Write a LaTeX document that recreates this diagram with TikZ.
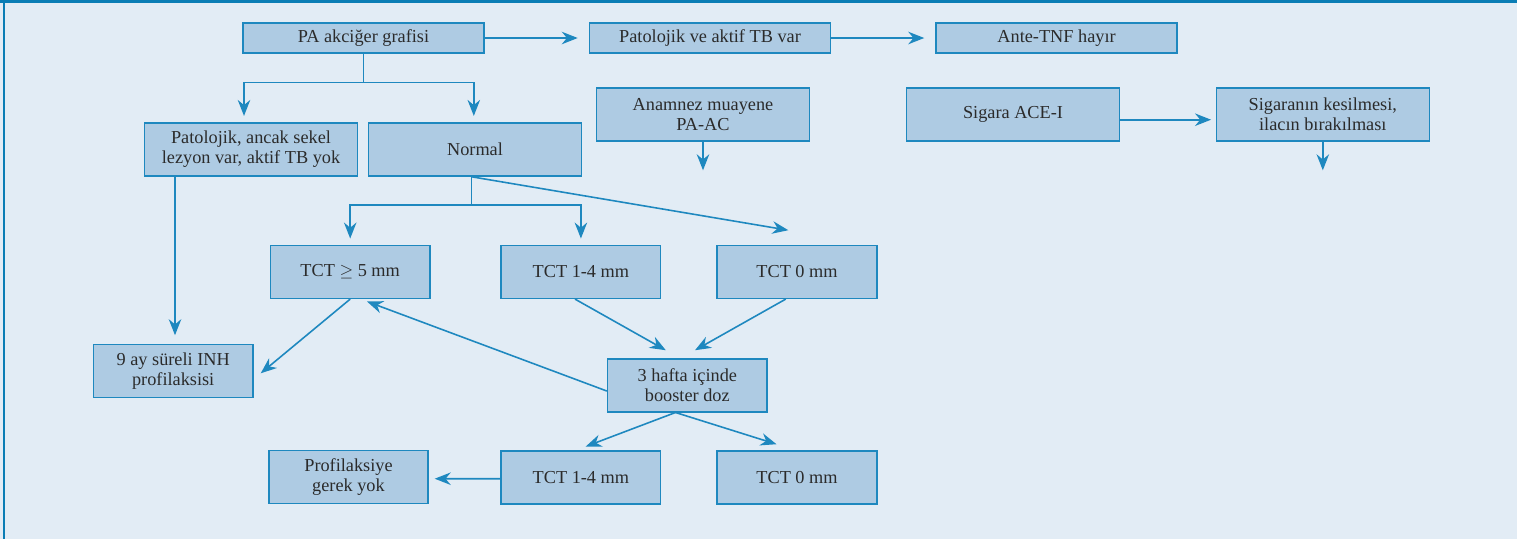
\documentclass[tikz,border=0pt]{standalone}
\usepackage{fontspec}
\setmainfont{Liberation Serif}
\usetikzlibrary{arrows.meta,positioning,calc}
\definecolor{tbInk}{HTML}{2B2B2B}
\definecolor{tbLine}{HTML}{1E88BF}
\definecolor{tbFill}{HTML}{AECBE3}
\definecolor{tbBack}{HTML}{E2ECF5}
\definecolor{tbFrame}{HTML}{0A7DB5}
\tikzset{
  tbbox/.style={draw=tbLine, fill=tbFill, line width=0.9pt, align=center,
                inner sep=2pt, text=tbInk, font=\fontsize{10.4}{11.4}\selectfont},
  widebox/.style={tbbox, minimum width=4.82cm, minimum height=0.61cm},
  midbox/.style={tbbox, minimum width=4.26cm, minimum height=1.06cm},
  smallbox/.style={tbbox, minimum width=3.19cm, minimum height=1.06cm},
  tbarr/.style={-{Stealth[length=3.2mm, width=2.5mm]}, draw=tbLine, line width=0.9pt},
  tbline/.style={draw=tbLine, line width=0.9pt},
}

\begin{document}
\begin{tikzpicture}[x=0.02cm, y=-0.02cm, node distance=2.08cm]
    % backdrop and frame
    \fill[tbBack] (0,0) rectangle (1517,539);
    \useasboundingbox (0,0) rectangle (1517,539);
    \draw[tbFrame, line width=1.7pt] (0,1.5) -- (1517,1.5);
    \draw[tbFrame, line width=0.9pt] (4,0) -- (4,539);

    \node[widebox] (pa) at (363.5,38) {PA akciğer grafisi};
    \node[widebox, right=of pa] (aktif) {Patolojik ve aktif TB var};
    \node[widebox, right=of aktif] (ante) {Ante-TNF hayır};
    \node[midbox] (sekel) at (251,149.5) {Patolojik, ancak sekel\\lezyon var, aktif TB yok};
    \node[midbox] (normal) at (475,149.5) {Normal};
    \node[midbox] (anamnez) at (703,114.7) {Anamnez muayene\\PA-AC};
    \node[midbox] (sigara) at (1013,114.7) {Sigara ACE-I};
    \node[midbox] (birak) at (1322.8,114.7) {Sigaranın kesilmesi,\\ilacın bırakılması};
    \node[smallbox] (tct5) at (350.2,271.8) {TCT $\geq$ 5 mm};
    \node[smallbox] (tct14) at (580.9,271.8) {TCT 1-4 mm};
    \node[smallbox] (tct0) at (797,271.8) {TCT 0 mm};
    \node[smallbox] (inh) at (173.2,370.8) {9 ay süreli INH\\profilaksisi};
    \node[smallbox] (booster) at (687.3,385.2) {3 hafta içinde\\booster doz};
    \node[smallbox] (gerekyok) at (348.5,476.8) {Profilaksiye\\gerek yok};
    \node[smallbox] (tct14b) at (580.9,477.2) {TCT 1-4 mm};
    \node[smallbox] (tct0b) at (797,477.2) {TCT 0 mm};

    % top row
    \draw[tbarr, shorten >=0.22cm] (pa) -- (aktif);
    \draw[tbarr, shorten >=0.22cm] (aktif) -- (ante);
    \draw[tbarr] ([yshift=-0.1cm]sigara.east) -- ([yshift=-0.1cm,xshift=-0.09cm]birak.west);
    \coordinate (anamnezend) at ($(anamnez.south)+(0,28.3)$);
    \coordinate (birakend) at ($(birak.south)+(0,28.3)$);
    \draw[tbarr] (anamnez) -- (anamnezend);
    \draw[tbarr] (birak) -- (birakend);

    % split under the X-ray
    \coordinate (paknot) at ($(pa.south)+(0,28.4)$);
    \draw[tbline] (pa.south) -- (paknot);
    \draw[tbarr] (paknot) -| ($(sekel.north)+(-7,-6.3)$);
    \draw[tbarr] (paknot) -| ($(normal.north)+(-1.2,-6.3)$);

    % split under normal
    \coordinate (nstart) at ($(normal.south)+(-3.3,0)$);
    \coordinate (nknot) at ($(nstart)+(0,28.3)$);
    \draw[tbline] (nstart) -- (nknot);
    \draw[tbarr] (nknot) -| ($(tct5.north)+(0,-6)$);
    \draw[tbarr] (nknot) -| ($(tct14.north)+(0,-6)$);
    \draw[tbarr] (nstart) -- ($(tct0.north)+(-8.7,-14.3)$);

    % to prophylaxis and booster
    \draw[tbarr] ($(sekel.south)+(-76,0)$) -- ($(inh.north)+(1.8,-8.3)$);
    \draw[tbarr] (tct5.south) -- ($(inh.east)+(7,2.5)$);
    \draw[tbarr] ($(booster.west)+(0,5.8)$) -- ($(tct5.south)+(16.8,2.4)$);
    \draw[tbarr] ($(tct14.south)+(-5.9,0)$) -- ($(booster.north)+(-21.5,-7.7)$);
    \draw[tbarr] ($(tct0.south)+(-11.3,0)$) -- ($(booster.north)+(7.7,-7.7)$);
    \draw[tbarr] ($(booster.south)+(-11.8,0)$) -- ($(tct14b.north)+(4.8,-3.4)$);
    \draw[tbarr] ($(booster.south)+(-11.8,0)$) -- ($(tct0b.north)+(-20.5,-5.7)$);
    \draw[tbarr] ($(tct14b.west)+(0,1.5)$) -- ($(gerekyok.east)+(5.7,1.9)$);
  \end{tikzpicture}
\end{document}
